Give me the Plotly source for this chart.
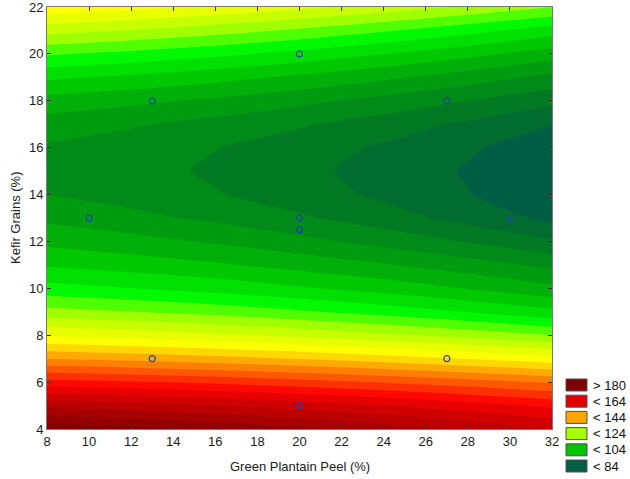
import plotly.graph_objects as go

# ---------------- data ----------------
x_peel = [8, 12, 16, 20, 24, 28, 32]          # Green Plantain Peel (%)
y_kefir = list(range(4, 23))                   # Kefir Grains (%)
# fitted response; one row per Kefir level (y=4..22)
z_rows = [
    [183.0, 181.3, 179.3, 177.0, 174.3, 171.3, 168.0],   # 4
    [171.0, 169.7, 168.1, 166.2, 164.1, 161.7, 159.0],   # 5
    [157.5, 156.4, 155.1, 153.5, 151.7, 149.7, 147.5],   # 6
    [144.0, 142.8, 141.4, 139.8, 137.9, 135.8, 133.5],   # 7
    [131.5, 130.2, 128.7, 126.9, 124.9, 122.5, 120.0],   # 8
    [121.5, 120.1, 118.5, 116.5, 114.3, 111.8, 109.0],   # 9
    [113.5, 112.1, 110.5, 108.5, 106.3, 103.8, 101.0],   # 10
    [107.5, 106.1, 104.5, 102.5, 100.3, 97.8, 95.0],     # 11
    [103.0, 101.4, 99.5, 97.2, 94.6, 91.7, 88.5],        # 12
    [99.0, 97.2, 95.1, 92.6, 89.8, 86.6, 83.0],          # 13
    [96.0, 94.3, 92.3, 89.9, 87.2, 84.2, 80.8],          # 14
    [95.0, 93.4, 91.4, 89.1, 86.5, 83.6, 80.3],          # 15
    [95.5, 93.9, 92.1, 89.9, 87.4, 84.6, 81.5],          # 16
    [98.0, 96.5, 94.6, 92.5, 90.0, 87.3, 84.2],          # 17
    [102.5, 101.0, 99.2, 97.1, 94.7, 92.0, 89.0],        # 18
    [108.7, 107.2, 105.4, 103.2, 100.8, 98.0, 95.0],     # 19
    [116.5, 114.9, 113.0, 110.7, 108.1, 105.2, 102.0],   # 20
    [125.5, 123.8, 121.7, 119.3, 116.5, 113.4, 110.0],   # 21
    [135.0, 133.3, 131.3, 129.0, 126.3, 123.3, 120.0],   # 22
]

# experimental design points
pt_x = [10, 13, 13, 20, 20, 20, 20, 27, 27, 30]
pt_y = [13, 7, 18, 5, 12.5, 13, 20, 7, 18, 13]

# contour levels
level_start, level_end, level_step = 84, 180, 4
band_colors = [
    "#005E44", "#006C30", "#007A22", "#008A18", "#009C10", "#00B008",
    "#00C800", "#00E000", "#00F800", "#50FF00", "#A0FF00", "#C8FF00",
    "#E8FF00", "#FFFF00", "#FFD800", "#FFAA00", "#FF8000", "#FF5800",
    "#FF3000", "#FF0800", "#E80000", "#D00000", "#BC0000", "#A80000",
    "#940000", "#800000",
]

legend_labels = ["&gt; 180", "&lt; 164", "&lt; 144", "&lt; 124", "&lt; 104", "&lt; 84"]
legend_colors = ["#7E0000", "#E20000", "#FFA500", "#A6FF00", "#00C400", "#006045"]

x_ticks = list(range(8, 33, 2))
y_ticks = list(range(4, 23, 2))

# ---------------- figure ----------------
FONT = "Liberation Sans, Arial, sans-serif"
W, H = 630, 479
L, R, T, B = 47, 552, 7, 429  # plot area in pixels

n = len(band_colors)
colorscale = [[i / (n - 1), c] for i, c in enumerate(band_colors)]

fig = go.Figure()
fig.add_trace(go.Contour(
    x=x_peel, y=y_kefir, z=z_rows,
    colorscale=colorscale, showscale=False,
    autocontour=False,
    contours=dict(start=level_start, end=level_end, size=level_step,
                  coloring="fill", showlines=False),
    line=dict(width=0, smoothing=0.6),
    hoverinfo="skip",
))
fig.add_trace(go.Scatter(
    x=pt_x, y=pt_y, mode="markers",
    marker=dict(symbol="circle-open", size=6, color="#2540B0",
                line=dict(width=1.2, color="#2540B0")),
    showlegend=False, hoverinfo="skip",
))


def px_to_paper(px, py):
    return (px - L) / (R - L), (B - py) / (B - T)


shapes, annotations = [], []
for i, (lab, col) in enumerate(zip(legend_labels, legend_colors)):
    top = 379 + i * 16.2
    x0, y1 = px_to_paper(566, top)
    x1, y0 = px_to_paper(587, top + 12)
    shapes.append(dict(type="rect", xref="paper", yref="paper",
                       x0=x0, x1=x1, y0=y0, y1=y1, fillcolor=col,
                       line=dict(color="#505050", width=1)))
    tx, ty = px_to_paper(591, top + 6)
    annotations.append(dict(xref="paper", yref="paper", x=tx, y=ty,
                            xanchor="left", yanchor="middle", showarrow=False,
                            text=lab, font=dict(family=FONT, size=13, color="#111111")))

ax_x, ax_y = px_to_paper(299.5, 467)
annotations.append(dict(xref="paper", yref="paper", x=ax_x, y=ax_y,
                        xanchor="center", yanchor="middle", showarrow=False,
                        text="Green Plantain Peel (%)",
                        font=dict(family=FONT, size=13, color="#222222")))
ay_x, ay_y = px_to_paper(15, 218)
annotations.append(dict(xref="paper", yref="paper", x=ay_x, y=ay_y,
                        xanchor="center", yanchor="middle", showarrow=False,
                        textangle=-90, text="Kefir Grains (%)",
                        font=dict(family=FONT, size=13, color="#222222")))

axis_common = dict(
    showgrid=False, zeroline=False, showline=True, linecolor="#7a7a7a",
    linewidth=1, mirror="ticks", ticks="inside", ticklen=4, tickwidth=1,
    tickcolor="#333333", tickfont=dict(family=FONT, size=13, color="#1a1a1a"),
    ticklabeloverflow="allow",
)
fig.update_layout(
    width=W, height=H,
    margin=dict(l=L, r=W - R, t=T, b=H - B, pad=0, autoexpand=False),
    paper_bgcolor="white", plot_bgcolor="white",
    showlegend=False,
    xaxis=dict(range=[8, 32], tickvals=x_ticks, automargin=False, **axis_common),
    yaxis=dict(range=[4, 22], tickvals=y_ticks, automargin=False, **axis_common),
    shapes=shapes, annotations=annotations,
)

fig.write_html("out.html")
